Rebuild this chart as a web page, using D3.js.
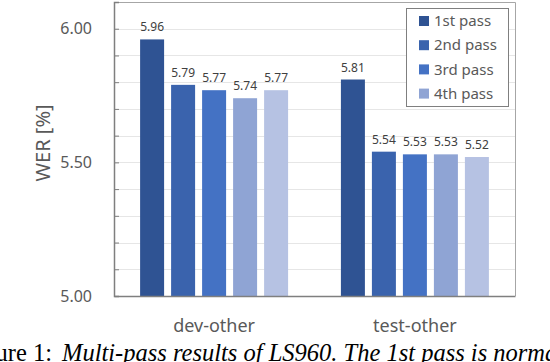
<!DOCTYPE html>
<html lang="en">
<head>
<meta charset="UTF-8">
<title>WER multi-pass</title>
<style>
  body { margin: 0; background: #fff; }
  svg { display: block; }
</style>
</head>
<body>
<script src="https://d3js.org/d3.v7.min.js"></script>
<div id="chart"></div>
<script>

// data
const categories = ["dev-other", "test-other"];
const passes = ["1st pass", "2nd pass", "3rd pass", "4th pass", "5th pass"];
const devOther = [5.96, 5.79, 5.77, 5.74, 5.77];
const testOther = [5.81, 5.54, 5.53, 5.53, 5.52];
const legendLabels = ["1st pass", "2nd pass", "3rd pass", "4th pass"];
const yTickLabels = [5.00, 5.50, 6.00];
const colors = ["#2f5393", "#3a63ad", "#4472c4", "#8fa4d4", "#b6c2e3"];

const width = 550, height = 362;
const frame = {left: 114, right: 515, top: 2, bottom: 296};

const data = categories.map((c, i) => ({
  cat: c,
  vals: [devOther, testOther][i].map((v, j) => ({pass: passes[j], v: v, j: j}))
}));

const svg = d3.select("#chart").append("svg")
  .attr("width", width)
  .attr("height", height);

// scales
const x0 = d3.scaleBand()
  .domain(categories)
  .range([frame.left, frame.right])
  .paddingInner(0.263)
  .paddingOuter(0.13);

const x1 = d3.scaleBand()
  .domain(passes)
  .range([0, x0.bandwidth()])
  .paddingInner(0.226);

const y = d3.scaleLinear()
  .domain([5, 6.1])
  .range([frame.bottom, frame.top]);

const color = d3.scaleOrdinal().domain(passes).range(colors);

// grid lines every 0.1
const gridTicks = d3.range(5.1, 6.05, 0.1);
svg.append("g")
  .selectAll("line")
  .data(gridTicks)
  .join("line")
    .attr("x1", frame.left)
    .attr("x2", frame.right)
    .attr("y1", d => Math.round(y(d)) + 0.5)
    .attr("y2", d => Math.round(y(d)) + 0.5)
    .attr("stroke", "#e6e6e6");

// frame top / right
svg.append("path")
  .attr("d", `M${frame.left},${frame.top + 0.5}H${frame.right + 0.5}V${frame.bottom}`)
  .attr("fill", "none")
  .attr("stroke", "#a6a6a6");

// bars
const groups = svg.append("g")
  .selectAll("g")
  .data(data)
  .join("g")
    .attr("transform", d => `translate(${x0(d.cat)},0)`);

groups.selectAll("rect")
  .data(d => d.vals)
  .join("rect")
    .attr("x", d => x1(d.pass))
    .attr("y", d => y(d.v))
    .attr("width", x1.bandwidth())
    .attr("height", d => y(5) - y(d.v))
    .attr("fill", d => color(d.pass));

groups.selectAll("text")
  .data(d => d.vals)
  .join("text")
    .attr("x", d => x1(d.pass) + x1.bandwidth() / 2)
    .attr("y", d => y(d.v) - 8)
    .attr("text-anchor", "middle")
    .attr("font-family", "Noto Sans, sans-serif")
    .attr("font-size", 12)
    .attr("fill", "#404040")
    .text(d => d.v.toFixed(2));

// y axis: inner ticks every 0.1, labels on 5.00 / 5.50 / 6.00
const yAxis = d3.axisLeft(y)
  .tickValues(d3.range(5, 6.15, 0.1))
  .tickSize(-5)
  .tickFormat("");
const ya = svg.append("g")
  .attr("transform", `translate(${frame.left},0)`)
  .call(yAxis);
ya.select(".domain").attr("stroke", "#7f7f7f").attr("stroke-width", 1.5);
ya.selectAll(".tick line").attr("stroke", "#7f7f7f");

svg.append("g")
  .selectAll("text")
  .data(yTickLabels)
  .join("text")
    .attr("x", 92)
    .attr("y", d => y(d))
    .attr("dy", "0.35em")
    .attr("text-anchor", "end")
    .attr("font-family", "Noto Sans, sans-serif")
    .attr("font-size", 16)
    .attr("fill", "#595959")
    .text(d => d.toFixed(2));

// x axis
const xa = svg.append("g")
  .attr("transform", `translate(0,${frame.bottom})`)
  .call(d3.axisBottom(x0).tickSize(0).tickPadding(0));
xa.select(".domain").attr("stroke", "#7f7f7f").attr("stroke-width", 1.5);
xa.selectAll(".tick text")
  .attr("y", 36)
  .attr("dy", 0)
  .attr("font-family", "Noto Sans, sans-serif")
  .attr("font-size", 18)
  .attr("fill", "#595959");

// axis title
svg.append("text")
  .attr("transform", "translate(50,143) rotate(-90)")
  .attr("text-anchor", "middle")
  .attr("font-family", "Noto Sans, sans-serif")
  .attr("font-size", 20)
  .attr("fill", "#595959")
  .text("WER [%]");

// legend
const legend = svg.append("g").attr("transform", "translate(406,8)");
legend.append("rect")
  .attr("x", 0.5).attr("y", 0.5)
  .attr("width", 102).attr("height", 98)
  .attr("fill", "#fff")
  .attr("stroke", "#7f7f7f");
const items = legend.selectAll("g.item")
  .data(legendLabels)
  .join("g")
    .attr("class", "item")
    .attr("transform", (d, i) => `translate(0,${13 + i * 24.2})`);
items.append("rect")
  .attr("x", 13).attr("y", -5)
  .attr("width", 10).attr("height", 10)
  .attr("fill", d => color(d));
items.append("text")
  .attr("x", 28)
  .attr("dy", "0.35em")
  .attr("font-family", "Noto Sans, sans-serif")
  .attr("font-size", 15)
  .attr("fill", "#595959")
  .text(d => d);

// caption (cut by the frame, as in the source figure)
svg.append("text")
  .attr("x", 52).attr("y", 361)
  .attr("text-anchor", "end")
  .attr("font-family", "Liberation Serif, serif")
  .attr("font-size", 24.5)
  .attr("fill", "#000")
  .text("Figure 1:");
svg.append("text")
  .attr("x", 62).attr("y", 361)
  .attr("font-family", "Liberation Serif, serif")
  .attr("font-style", "italic")
  .attr("font-size", 24.5)
  .attr("fill", "#000")
  .text("Multi-pass results of LS960. The 1st pass is normal decoding");

</script>
</body>
</html>
